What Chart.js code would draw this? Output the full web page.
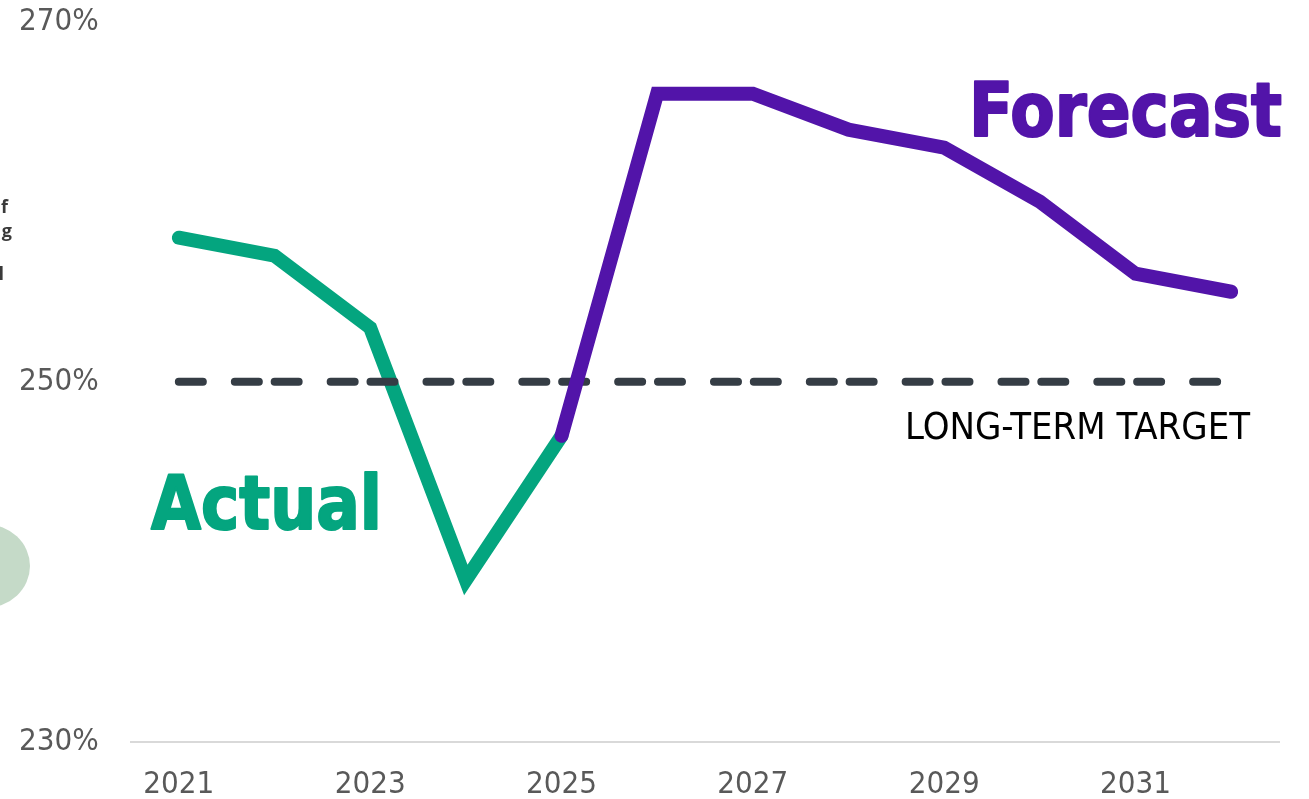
<!DOCTYPE html>
<html>
<head>
<meta charset="utf-8">
<title>Ratio vs long-term target</title>
<script src="https://cdn.jsdelivr.net/npm/chart.js@4.4.1/dist/chart.umd.min.js"></script>
<style>
  html, body { margin: 0; padding: 0; background: #ffffff; }
  #wrap { width: 1309px; height: 799px; position: relative; }
</style>
</head>
<body>
<div id="wrap"><canvas id="chart"></canvas></div>
<script>
const years = ['2021', '2022', '2023', '2024', '2025', '2026', '2027', '2028', '2029', '2030', '2031', '2032'];
const actual = [258, 257, 253, 239, 247, null, null, null, null, null, null, null];
const forecast = [null, null, null, null, 247, 266, 266, 264, 263, 260, 256, 255];
const target = [250, 250, 250, 250, 250, 250, 250, 250, 250, 250, 250, 250];
const yTicks = [230, 250, 270];

const GREEN = '#04a57f';
const PURPLE = '#5214a9';
const TICK_FONT = { family: "'DejaVu Sans Condensed', 'DejaVu Sans', sans-serif", size: 31 };

// fits a string into a given width, keeping the glyph height of the font size
function fitText(ctx, text, x, y, width, font, color, weight) {
  ctx.save();
  ctx.font = font;
  ctx.fillStyle = color;
  ctx.strokeStyle = color;
  ctx.lineJoin = 'round';
  ctx.textAlign = 'left';
  ctx.textBaseline = 'alphabetic';
  const w = ctx.measureText(text).width;
  ctx.translate(x, y);
  ctx.scale(width / w, 1);
  ctx.fillText(text, 0, 0);
  if (weight) {
    ctx.lineWidth = weight;
    ctx.strokeText(text, 0, 0);
  }
  ctx.restore();
}

// labels and the bits of the neighbouring slide on the left edge
const annotations = {
  id: 'annotations',
  beforeDraw(chart) {
    const ctx = chart.ctx;
    ctx.save();
    ctx.fillStyle = '#c5dac8';
    ctx.beginPath();
    ctx.ellipse(-15, 566, 45, 42, 0, 0, Math.PI * 2);
    ctx.fill();
    ctx.fillStyle = '#3a3a3a';
    ctx.font = "bold 18px 'Open Sans', sans-serif";
    ctx.textAlign = 'right';
    ctx.fillText('f', 8, 213);
    ctx.fillText('g', 12, 237);
    ctx.fillText('l', 4, 280);
    ctx.restore();
  },
  afterDraw(chart) {
    const ctx = chart.ctx;
    const y = chart.scales.y;
    const bold = "bold 74px 'DejaVu Sans Condensed', 'DejaVu Sans', sans-serif";
    fitText(ctx, 'Forecast', 969, 136, 313, bold, PURPLE, 2);
    fitText(ctx, 'Actual', 151, 529, 231, bold, GREEN, 2);
    fitText(ctx, 'LONG-TERM TARGET', 905, y.getPixelForValue(250) + 57, 345,
      "37px 'DejaVu Sans Condensed', 'DejaVu Sans', sans-serif", '#000000');
  }
};

new Chart(document.getElementById('chart'), {
  type: 'line',
  data: {
    labels: years,
    datasets: [
      {
        label: 'Forecast',
        data: forecast,
        borderColor: PURPLE,
        borderWidth: 14,
        borderCapStyle: 'round',
        pointRadius: 0,
        fill: false,
        order: 0
      },
      {
        label: 'Long-term target',
        data: target,
        borderColor: '#353d45',
        borderWidth: 8,
        borderCapStyle: 'round',
        borderDash: [24, 32, 24, 15.83],
        pointRadius: 0,
        fill: false,
        order: 1
      },
      {
        label: 'Actual',
        data: actual,
        borderColor: GREEN,
        borderWidth: 14,
        borderCapStyle: 'round',
        pointRadius: 0,
        fill: false,
        order: 2
      }
    ]
  },
  options: {
    responsive: true,
    maintainAspectRatio: false,
    animation: false,
    layout: { padding: { left: 19, top: 18, right: 30, bottom: 0 } },
    plugins: {
      legend: { display: false },
      tooltip: { enabled: false }
    },
    scales: {
      x: {
        offset: true,
        grid: { display: false, drawTicks: false },
        border: { display: true, color: '#d9d9d9', width: 2 },
        ticks: {
          autoSkip: false,
          maxRotation: 0,
          padding: 24,
          color: '#595959',
          font: TICK_FONT,
          callback: (v, i) => (i % 2 === 0 ? years[i] : '')
        },
        afterFit: (scale) => { scale.height = 57; }
      },
      y: {
        min: 230,
        max: 270,
        grid: { display: false, drawTicks: false },
        border: { display: false },
        afterBuildTicks: (scale) => { scale.ticks = yTicks.map(v => ({ value: v })); },
        ticks: {
          crossAlign: 'far',
          color: '#595959',
          font: TICK_FONT,
          callback: (v) => v + '%'
        },
        afterFit: (scale) => { scale.width = 112; }
      }
    }
  },
  plugins: [annotations]
});
</script>
</body>
</html>
